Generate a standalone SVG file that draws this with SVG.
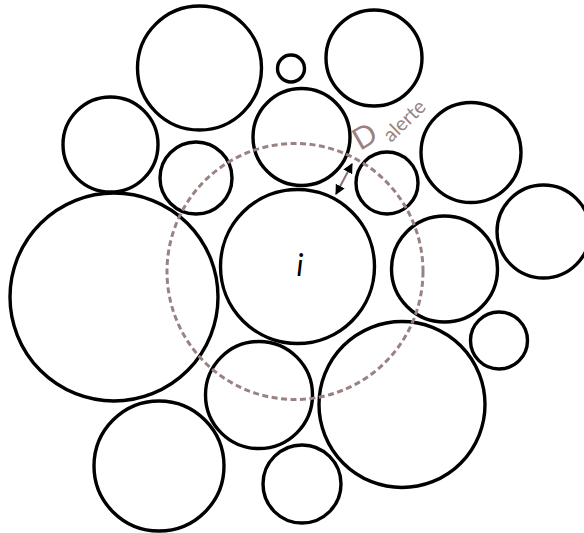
<svg xmlns="http://www.w3.org/2000/svg" width="584" height="533" viewBox="0 0 584 533">
<defs>
<style>
.c{fill:none;stroke:#000;stroke-width:3.4}
.d{fill:none;stroke:#9a8282;stroke-width:3;stroke-dasharray:6 3.5}
.t{font-family:Lato,"Open Sans","DejaVu Sans",sans-serif}
</style>
<marker id="ah" viewBox="0 0 10 10" refX="9" refY="5" markerWidth="5" markerHeight="5" orient="auto-start-reverse" markerUnits="strokeWidth">
<path d="M0,0 L10,5 L0,10 z" fill="#000"/>
</marker>
</defs>
<rect width="584" height="533" fill="#fff"/>
<g id="nodes">
<g id="A"><circle class="c" cx="199.5" cy="68" r="62"/></g>
<g id="B"><circle class="c" cx="110.5" cy="144.5" r="47.5"/></g>
<g id="C"><circle class="c" cx="196" cy="178" r="36"/></g>
<g id="D"><circle class="c" cx="114" cy="297" r="104"/></g>
<g id="E"><circle class="c" cx="297.5" cy="266.5" r="77"/><text class="t" x="300" y="276" font-size="30" font-style="italic" text-anchor="middle" fill="#000">i</text></g>
<g id="F"><circle class="c" cx="301.5" cy="137" r="48.5"/></g>
<g id="G"><circle class="c" cx="291" cy="68.5" r="13.5"/></g>
<g id="H"><circle class="c" cx="374" cy="58" r="48"/></g>
<g id="I"><circle class="c" cx="471" cy="152.5" r="50"/></g>
<g id="J"><circle class="c" cx="387" cy="183" r="31"/></g>
<g id="K"><circle class="c" cx="444.5" cy="269" r="53"/></g>
<g id="L"><circle class="c" cx="543.5" cy="231.5" r="46.5"/></g>
<g id="M"><circle class="c" cx="499" cy="340.5" r="28.5"/></g>
<g id="N"><circle class="c" cx="402" cy="404.5" r="83"/></g>
<g id="O"><circle class="c" cx="259" cy="395" r="53.5"/></g>
<g id="P"><circle class="c" cx="302" cy="484" r="39"/></g>
<g id="Q"><circle class="c" cx="159" cy="466" r="65"/></g>
<g id="alert"><circle class="d" cx="295" cy="271.5" r="128"/></g>
</g>
<g id="connectors">
<line x1="336" y1="194" x2="352" y2="164" stroke="#8a7272" stroke-width="2" marker-start="url(#ah)" marker-end="url(#ah)"/>
</g>
<g id="label" fill="#9a8282" class="t">
<text transform="translate(360,151) rotate(-30)" font-size="30">D</text>
<text transform="translate(391,143) rotate(-44)" font-size="20">alerte</text>
</g>
</svg>
